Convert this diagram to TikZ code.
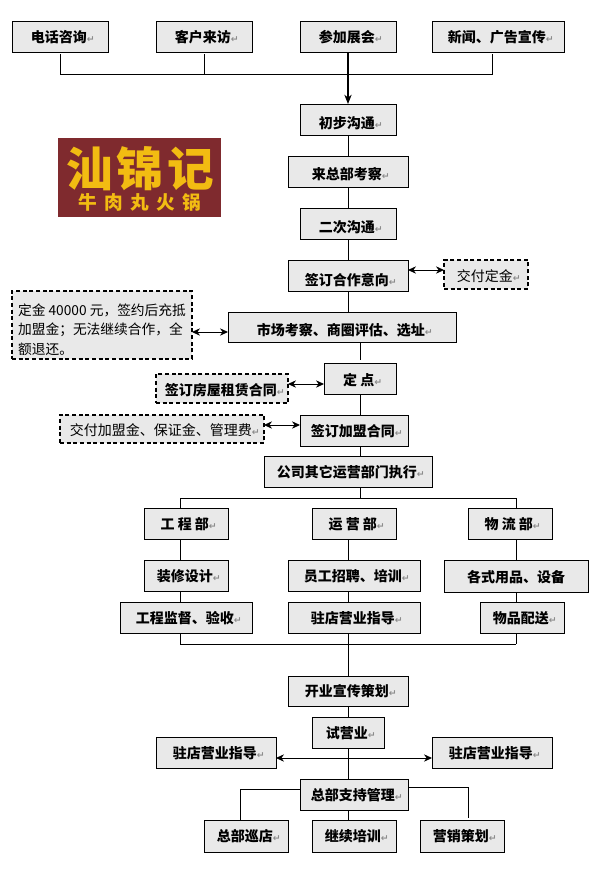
\documentclass[tikz,border=0pt]{standalone}
\usepackage{fontspec}
\setmainfont{Noto Sans CJK SC}
\newfontfamily\cjkr{Noto Sans CJK SC}
\newcommand{\cjkb}{\cjkr\bfseries}
\newfontfamily\markf{DejaVu Sans}
\usetikzlibrary{arrows.meta}
\definecolor{boxfill}{HTML}{E9E9E9}
\definecolor{logobg}{HTML}{7F2A2E}
\definecolor{logofg}{HTML}{F2BC12}
\newcommand{\parmk}{{\markf\bfseries\fontsize{7pt}{7pt}\selectfont\textcolor{black!45}{↵}}}
\tikzset{
  x=0.75pt,y=-0.75pt,
  box/.style={draw=black,line width=0.65pt,fill=boxfill,inner sep=0pt,outer sep=0pt,align=center,
    font=\cjkb\fontsize{10.5pt}{14pt}\selectfont},
  dbox/.style={box,line width=0.8pt,dash pattern=on 3pt off 2pt},
  rbox/.style={dbox,font=\cjkr\mdseries\fontsize{10.5pt}{14pt}\selectfont},
  link/.style={draw=black,line width=0.6pt},
  twoway/.style={draw=black,line width=0.7pt,{Stealth[length=6pt,width=5.5pt]}-{Stealth[length=6pt,width=5.5pt]}},
  oneway/.style={draw=black,line width=0.8pt,-{Stealth[length=7pt,width=5.5pt]}},
}
\newcommand{\lowr}{4.2}
\newcommand{\dy}[1]{\renewcommand{\lowr}{#1}}
% style, name, x1, x2, y1, y2, text  (pixels of the reference)
\newcommand{\bx}[7][box]{%
  \pgfmathsetmacro\cxx{(#3+#4)/2}\pgfmathsetmacro\cyy{(#5+#6)/2}%
  \pgfmathsetmacro\www{(#4-#3)*0.75}\pgfmathsetmacro\hhh{(#6-#5)*0.75}%
  \node[#1,minimum width=\www pt,minimum height=\hhh pt] (#2) at (\cxx,\cyy) {\hspace*{4pt}\raisebox{-\lowr pt}[0pt][0pt]{#7\parmk}};}
\begin{document}
\begin{tikzpicture}
\useasboundingbox (0,0) rectangle (604,872);
\fill[white] (0,0) rectangle (604,872);
% row 1
\dy{4.2}
\bx{a1}{12}{108}{21}{52}{电话咨询}
\bx{a2}{156}{252}{21}{52}{客户来访}
\bx{a3}{300}{396}{21}{52}{参加展会}
\bx{a4}{432}{564}{21}{52}{新闻、广告宣传}
% main column
\dy{6.6}
\bx{b1}{300}{396}{104}{135}{初步沟通}
\dy{5.9}
\bx{b2}{288}{408}{156}{187}{来总部考察}
\dy{6.6}
\bx{b3}{300}{396}{208}{239}{二次沟通}
\dy{7.4}
\bx{b4}{288}{408}{260}{291}{签订合作意向}
\dy{5.2}
\bx[rbox]{d1}{444}{528}{260}{289}{交付定金}
\dy{6.2}
\bx{b5}{228}{456}{312}{342}{市场考察、商圈评估、选址}
\node[rbox,minimum width=135pt,minimum height=51pt,align=left,
  font=\cjkr\mdseries\fontsize{10.3pt}{14.6pt}\selectfont] (d2) at (102,325)
  {\rule{0pt}{15.5pt}定金 40000 元，签约后充抵\\加盟金；无法继续合作，全\\额退还。\hspace{84pt}};
\dy{5.2}
\bx{b6}{324}{396}{363}{394}{定 点}
\bx[dbox]{d3}{156}{288}{374}{403}{签订房屋租赁合同}
\bx[rbox]{d4}{60}{264}{415}{443}{交付加盟金、保证金、管理费}
\dy{4.2}
\bx{b7}{300}{408}{415}{446}{签订加盟合同}
\bx{b8}{264}{432}{456}{487}{公司其它运营部门执行}
% departments
\bx{c1}{144}{228}{508}{539}{工 程 部}
\bx{c2}{312}{396}{508}{539}{运 营 部}
\bx{c3}{468}{552}{508}{539}{物 流 部}
\bx{e1}{144}{228}{560}{591}{装修设计}
\bx{e2}{288}{420}{560}{591}{员工招聘、培训}
\node[box,minimum width=108pt,minimum height=24pt] (e3) at (516,576) {\raisebox{-4.6pt}[0pt][0pt]{各式用品、设备}};
\bx{f1}{120}{252}{602}{633}{工程监督、验收}
\bx{f2}{288}{420}{602}{633}{驻店营业指导}
\bx{f3}{480}{564}{602}{633}{物品配送}
% lower column
\bx{g1}{288}{408}{676}{706}{开业宣传策划}
\bx{g2}{312}{384}{717}{748}{试营业}
\bx{h1}{156}{276}{737}{768}{驻店营业指导}
\bx{h2}{432}{552}{737}{768}{驻店营业指导}
\bx{g3}{300}{408}{779}{810}{总部支持管理}
\bx{k1}{204}{288}{820}{852}{总部巡店}
\bx{k2}{312}{396}{820}{852}{继续培训}
\bx{k3}{420}{504}{820}{852}{营销策划}
% logo
\node[fill=logobg,minimum width=122.25pt,minimum height=59.25pt,inner sep=0pt,outer sep=0pt] (logo) at (139.5,177.5) {};
\node[text=logofg,font=\cjkb\fontsize{35pt}{35pt}\selectfont,inner sep=0pt] (logoa) at (140,169) {汕\hspace{3pt}锦\hspace{3pt}记};
\node[text=logofg,font=\cjkb\fontsize{14pt}{15pt}\selectfont,inner sep=0pt] (logob) at (140,202) {牛\hspace{5.5pt}肉\hspace{5.5pt}丸\hspace{5.5pt}火\hspace{5.5pt}锅};
% junctions
\coordinate (j1) at (60,74);   \coordinate (j2) at (204,74);
\coordinate (j3) at (348,74);  \coordinate (j4) at (492,74);
\coordinate (s1) at (60,54);   \coordinate (s2) at (204,54);
\coordinate (s4) at (492,54);
\draw[link] (s1) -- (j1) -- (j4) -- (s4);
\draw[link] (s2) -- (j2);
\draw[oneway] (a3.south) -- (b1.north);
\draw[link] (b1) -- (b2);
\draw[link] (b2) -- (b3);
\draw[link] (b3) -- (b4);
\draw[link] (b4) -- (b4.south |- b5.north);
% off-centre trunk at x=360
\coordinate (t1) at (360,342); \coordinate (t2) at (360,360);
\draw[link] (t1) -- (t2);
\coordinate (t3) at (360,394); \coordinate (t4) at (360,415);
\draw[link] (t3) -- (t4);
\coordinate (t5) at (360,446); \coordinate (t6) at (360,456);
\draw[link] (t5) -- (t6);
\coordinate (t7) at (360,487); \coordinate (t8) at (360,498);
\coordinate (u1) at (180,498); \coordinate (u3) at (516,498);
\coordinate (u1b) at (180,508); \coordinate (u3b) at (516,508);
\draw[link] (t7) -- (t8);
\draw[link] (u1b) -- (u1) -- (u3) -- (u3b);
% department columns
\foreach \xx/\ya/\yb in {180/539/560,180/591/602,180/633/644,
                         348/539/560,348/591/602,348/633/676,
                         516/539/560,516/592/602,516/633/644}
  \draw[link] (\xx,\ya) -- (\xx,\yb);
\coordinate (v1) at (180,644); \coordinate (v3) at (516,644);
\draw[link] (v1) -- (v3);
\draw[link] (g1) -- (g2);
\draw[link] (g2) -- (g2.center |- g3.north);
\draw[twoway] (h1.east |- 0,758) -- (h2.west |- 0,758);
% support branches
\coordinate (w1) at (240,789); \coordinate (w1b) at (240,820);
\coordinate (w3) at (468,787); \coordinate (w3b) at (468,818);
\draw[link] (g3.west |- w1) -- (w1) -- (w1b);
\draw[link] (g3.east |- w3) -- (w3) -- (w3b);
\coordinate (w2) at (348,810); \coordinate (w2b) at (348,820);
\draw[link] (w2) -- (w2b);
% two-way side links
\draw[twoway] (b4.east |- 0,270) -- (d1.west |- 0,270);
\draw[twoway] (d2.east |- 0,332) -- (b5.west |- 0,332);
\draw[twoway] (d3.east |- 0,384) -- (b6.west |- 0,384);
\draw[twoway] (d4.east |- 0,425) -- (b7.west |- 0,425);
\end{tikzpicture}
\end{document}
